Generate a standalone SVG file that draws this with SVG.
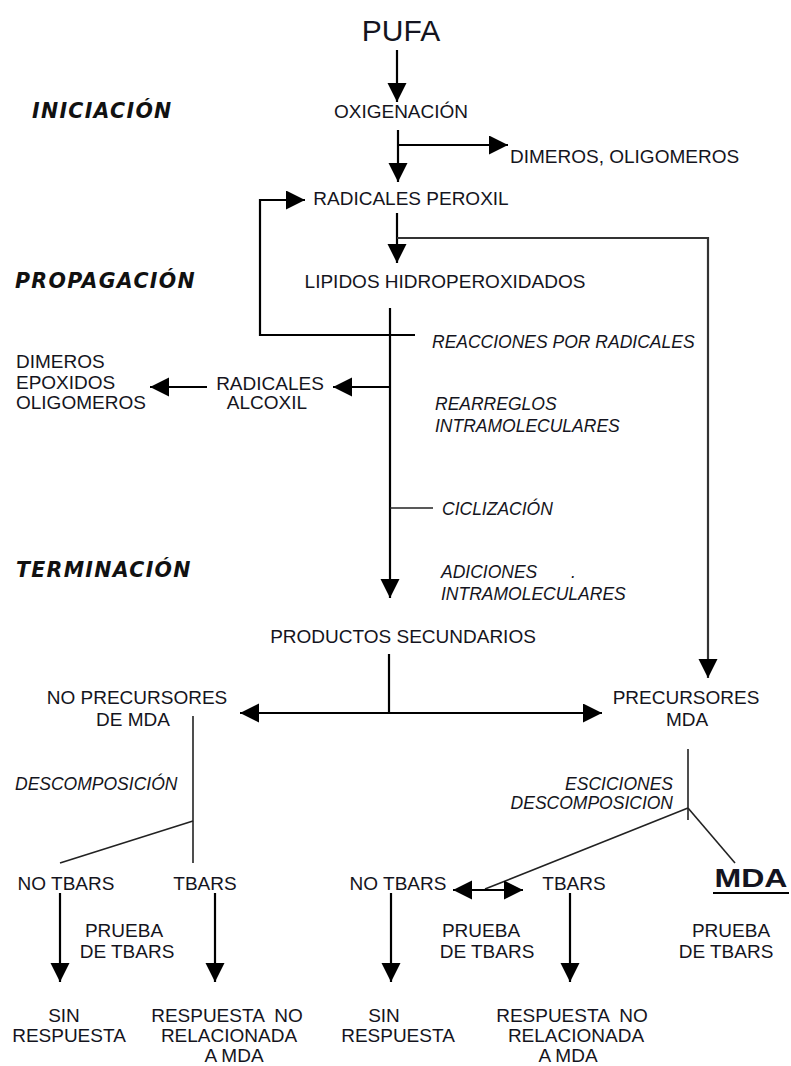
<svg xmlns="http://www.w3.org/2000/svg" width="791" height="1066" viewBox="0 0 791 1066">
  <defs>
    <marker id="ah" markerUnits="userSpaceOnUse" markerWidth="20" markerHeight="20" refX="19" refY="9.5" orient="auto-start-reverse" viewBox="0 0 20 20">
      <path d="M0,0 L19,9.5 L0,19 z" fill="#000"/>
    </marker>
    <style>
      .t { font-family: "Liberation Sans", Arial, sans-serif; font-size: 19px; fill: #141420; }
      .c { text-anchor: middle; }
      .e { text-anchor: end; }
      .it { font-family: "Liberation Sans", Arial, sans-serif; font-size: 17.5px; font-style: italic; fill: #141420; }
      .sec { font-family: "DejaVu Sans", sans-serif; font-size: 20.5px; font-weight: bold; font-style: italic; letter-spacing: 1.3px; fill: #111; }
      .ln { fill: none; stroke: #000; stroke-width: 2.2; }
      .thin { fill: none; stroke: #222; stroke-width: 1.6; }
      .arr { marker-end: url(#ah); }
    </style>
  </defs>

  <rect width="791" height="1066" fill="#fff"/>

  <!-- stage labels -->
  <g id="stages">
    <text class="sec" x="32" y="118">INICIACIÓN</text>
    <text class="sec" x="15" y="288">PROPAGACIÓN</text>
    <text class="sec" x="16" y="577">TERMINACIÓN</text>
  </g>

  <!-- connectors -->
  <g id="connectors">
    <path class="ln arr" d="M397,50 V102"/>
    <path class="ln arr" d="M398,130 V182"/>
    <path class="ln arr" d="M398,145 H508"/>
    <path class="ln arr" d="M415,335 H260 V200 H305"/>
    <path class="ln arr" d="M397,213 V263"/>
    <path class="ln arr" d="M397,238 H708 V678" style="stroke:#333"/>
    <path class="ln arr" d="M390,308 V598"/>
    <path class="ln arr" d="M390,387 H333"/>
    <path class="ln arr" d="M207,387 H150"/>
    <path class="thin" d="M390,508 H433"/>
    <path class="ln" d="M389,654 V713"/>
    <path class="ln arr" d="M389,713 H240"/>
    <path class="ln arr" d="M389,713 H602"/>
    <path class="thin" d="M193,716 V863"/>
    <path class="thin" d="M193,821 L60,863"/>
    <path class="thin" d="M688,749 V820"/>
    <path class="thin" d="M688,808 L485,889"/>
    <path class="thin" d="M688,808 L735,863"/>
    <path class="ln arr" d="M453,890 H523" style="marker-start:url(#ah)"/>
    <path class="ln arr" d="M60,893 V982"/>
    <path class="ln arr" d="M215,893 V982"/>
    <path class="ln arr" d="M391,893 V982"/>
    <path class="ln arr" d="M570,893 V982"/>
  </g>

  <!-- nodes -->
  <g id="pufa"><text class="t c" x="401" y="41" style="font-size:30px">PUFA</text></g>
  <g id="oxigenacion"><text class="t c" x="401" y="118">OXIGENACIÓN</text></g>
  <g id="dimeros-oligomeros"><text class="t" x="510" y="163">DIMEROS, OLIGOMEROS</text></g>
  <g id="radicales-peroxil"><text class="t c" x="411" y="205">RADICALES PEROXIL</text></g>
  <g id="lipidos"><text class="t c" x="445" y="288">LIPIDOS HIDROPEROXIDADOS</text></g>
  <g id="radicales-alcoxil">
    <text class="t c" x="270" y="390">RADICALES</text>
    <text class="t c" x="267" y="409">ALCOXIL</text>
  </g>
  <g id="dimeros-epoxidos">
    <text class="t" x="16" y="368">DIMEROS</text>
    <text class="t" x="16" y="389">EPOXIDOS</text>
    <text class="t" x="16" y="409">OLIGOMEROS</text>
  </g>
  <g id="reacciones"><text class="it" x="432" y="348">REACCIONES POR RADICALES</text></g>
  <g id="rearreglos">
    <text class="it" x="435" y="410">REARREGLOS</text>
    <text class="it" x="435" y="432">INTRAMOLECULARES</text>
  </g>
  <g id="ciclizacion"><text class="it" x="442" y="515">CICLIZACIÓN</text></g>
  <g id="adiciones">
    <text class="it" x="441" y="578">ADICIONES</text>
    <text class="it" x="571" y="578">.</text>
    <text class="it" x="441" y="600">INTRAMOLECULARES</text>
  </g>
  <g id="productos"><text class="t c" x="403" y="643">PRODUCTOS SECUNDARIOS</text></g>
  <g id="no-precursores">
    <text class="t c" x="137" y="704">NO PRECURSORES</text>
    <text class="t c" x="133" y="726">DE MDA</text>
  </g>
  <g id="precursores">
    <text class="t c" x="686" y="704">PRECURSORES</text>
    <text class="t c" x="687" y="726">MDA</text>
  </g>
  <g id="descomposicion"><text class="it" x="15" y="790">DESCOMPOSICIÓN</text></g>
  <g id="escisiones">
    <text class="it e" x="673" y="790">ESCICIONES</text>
    <text class="it e" x="673" y="809">DESCOMPOSICION</text>
  </g>

  <!-- left branch results -->
  <g id="no-tbars-1"><text class="t c" x="66" y="890">NO TBARS</text></g>
  <g id="tbars-1"><text class="t c" x="205" y="890">TBARS</text></g>
  <g id="prueba-1">
    <text class="t c" x="124" y="937">PRUEBA</text>
    <text class="t c" x="127" y="958">DE TBARS</text>
  </g>
  <g id="sin-respuesta-1">
    <text class="t c" x="64" y="1022">SIN</text>
    <text class="t c" x="69" y="1042">RESPUESTA</text>
  </g>
  <g id="respuesta-no-1">
    <text class="t c" x="227" y="1022" style="white-space:pre">RESPUESTA  NO</text>
    <text class="t c" x="229" y="1042">RELACIONADA</text>
    <text class="t c" x="234" y="1062">A MDA</text>
  </g>

  <!-- right branch results -->
  <g id="no-tbars-2"><text class="t c" x="398" y="890">NO TBARS</text></g>
  <g id="tbars-2"><text class="t c" x="574" y="890">TBARS</text></g>
  <g id="prueba-2">
    <text class="t c" x="481" y="937">PRUEBA</text>
    <text class="t c" x="487" y="958">DE TBARS</text>
  </g>
  <g id="sin-respuesta-2">
    <text class="t c" x="384" y="1022">SIN</text>
    <text class="t c" x="398" y="1042">RESPUESTA</text>
  </g>
  <g id="respuesta-no-2">
    <text class="t c" x="572" y="1022" style="white-space:pre">RESPUESTA  NO</text>
    <text class="t c" x="576" y="1042">RELACIONADA</text>
    <text class="t c" x="568" y="1062">A MDA</text>
  </g>
  <g id="mda">
    <text class="t c" x="751" y="887" style="font-size:25px;font-weight:bold" textLength="73" lengthAdjust="spacingAndGlyphs">MDA</text>
    <line x1="713" y1="893" x2="789" y2="893" stroke="#000" stroke-width="2"/>
  </g>
  <g id="prueba-3">
    <text class="t c" x="731" y="937">PRUEBA</text>
    <text class="t c" x="726" y="958">DE TBARS</text>
  </g>
</svg>
